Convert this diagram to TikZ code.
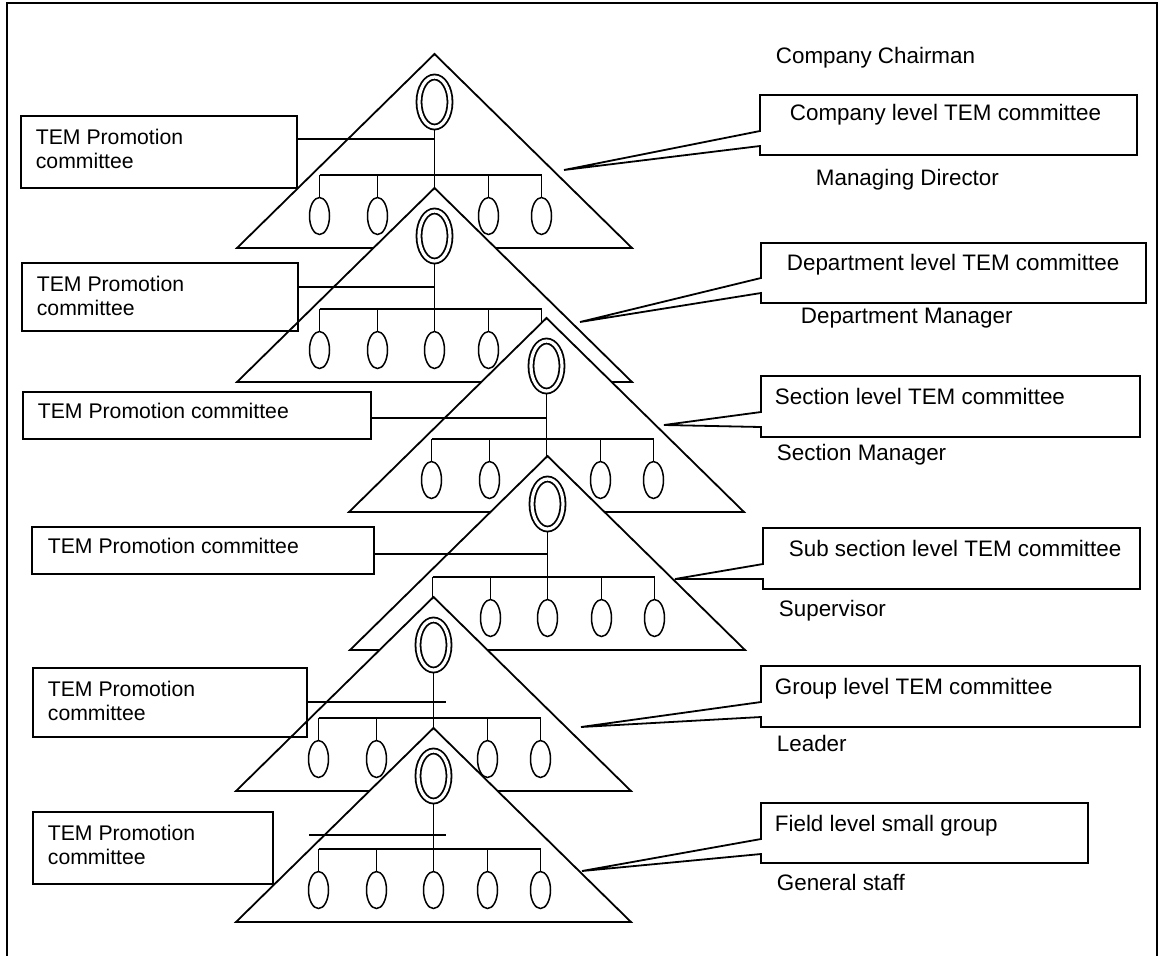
\documentclass[tikz,border=0pt]{standalone}
\usepackage{fontspec}
\setmainfont{Liberation Sans}
\usepackage{tikz}
\usetikzlibrary{shapes.geometric}

\begin{document}
\begin{tikzpicture}[x=0.5pt,y=-0.5pt,line width=0.9pt,line join=miter,
    tri/.style={draw,fill=white},
    head/.style={draw,ellipse,double,double distance=1.6pt,minimum width=15.5pt,minimum height=25pt,inner sep=0pt,outer sep=1.7pt},
    memb/.style={draw,ellipse,line width=0.75pt,minimum width=10pt,minimum height=18.5pt,inner sep=0pt},
    lbox/.style={draw,rectangle,inner sep=0pt},
    ltxt/.style={align=left,inner sep=0pt,font=\fontsize{10.6}{12}\selectfont},
    rtxt/.style={anchor=base west,inner sep=0pt,font=\fontsize{11.2}{13}\selectfont}]
  \useasboundingbox (0,0) rectangle (1163,955);
  \draw (7,960) -- (7,3) -- (1157,3) -- (1157,960);

  % the six levels, each one drawn over the one above it
  \foreach \n/\ax/\ay/\jx/\jy/\sk in {1/434.5/54/434.5/139/3, 2/434.5/188/434.5/287/5,
      3/546.5/318/546.5/418/3, 4/547.5/456/547.5/554/1,
      5/433.5/597/446/702/3, 6/433.5/728/446/835/0} {
    \draw[tri] (\ax,\ay) -- ++(-197.5,194) -- ++(395,0) -- cycle;
    \node[head] (h\n) at (\ax,\ay+48) {};
    \draw (h\n.south) -- (\ax,\ay+121);
    \draw (\ax-115,\ay+121) -- (\ax+107,\ay+121);
    \foreach \k/\dx in {1/-115,2/-57,3/0,4/54,5/107} {
      \draw (\ax+\dx,\ay+121) -- (\ax+\dx,\ay+144);
      \ifnum\k=\sk\relax\else
        \node[memb] (m\n\k) at (\ax+\dx,\ay+162) {};
      \fi
    }
    \coordinate (j\n) at (\jx,\jy);
  }

  % promotion committees on the left
  \node[lbox,minimum width=138pt,minimum height=36pt] (b1) at (159,152) {};
  \node[lbox,minimum width=138pt,minimum height=34pt] (b2) at (160,297) {};
  \node[lbox,minimum width=174pt,minimum height=23.5pt] (b3) at (197,415.5) {};
  \node[lbox,minimum width=171pt,minimum height=23.5pt] (b4) at (203,550.5) {};
  \node[lbox,minimum width=137pt,minimum height=34.5pt] (b5) at (170,702.5) {};
  \node[lbox,minimum width=120pt,minimum height=36pt] (b6) at (153,848) {};

  \node[ltxt,anchor=north west] (b1t) at (35,128) {TEM Promotion\\committee};
  \node[ltxt,anchor=north west] (b2t) at (36,275) {TEM Promotion\\committee};
  \node[ltxt,anchor=base west] (b3t) at (37,418) {TEM Promotion committee};
  \node[ltxt,anchor=base west] (b4t) at (47,553) {TEM Promotion committee};
  \node[ltxt,anchor=north west] (b5t) at (47,680) {TEM Promotion\\committee};
  \node[ltxt,anchor=north west] (b6t) at (47,824) {TEM Promotion\\committee};

  \foreach \n in {1,...,5}
    \draw (b\n.east |- j\n) -- (j\n);
  \coordinate (i6) at (309,835);
  \draw (i6) -- (j6);

  % level committees on the right
  \draw (760,95) -- (1137,95) -- (1137,155) -- (760,155) -- (760,146) -- (564,170) -- (760,131) -- cycle;
  \draw (761,243) -- (1146,243) -- (1146,303) -- (761,303) -- (761,293) -- (580,322) -- (761,278) -- cycle;
  \draw (761,376) -- (1140,376) -- (1140,437) -- (761,437) -- (761,427) -- (664,425) -- (761,412) -- cycle;
  \draw (763,528) -- (1140,528) -- (1140,589) -- (763,589) -- (763,579) -- (675,579) -- (763,564) -- cycle;
  \draw (761,666) -- (1140,666) -- (1140,727) -- (761,727) -- (761,717) -- (581,727) -- (761,702) -- cycle;
  \draw (761,803) -- (1088,803) -- (1088,863) -- (761,863) -- (761,854) -- (582,871) -- (761,839) -- cycle;

  \node[rtxt] (r1) at (789,120) {Company level TEM committee};
  \node[rtxt] (r2) at (786,270) {Department level TEM committee};
  \node[rtxt] (r3) at (774,404) {Section level TEM committee};
  \node[rtxt] (r4) at (788,556) {Sub section level TEM committee};
  \node[rtxt] (r5) at (774,694) {Group level TEM committee};
  \node[rtxt] (r6) at (774,831) {Field level small group};

  \node[rtxt] (chair) at (775,63) {Company Chairman};
  \node[rtxt] (md) at (815,185) {Managing Director};
  \node[rtxt] (dm) at (800,323) {Department Manager};
  \node[rtxt] (sm) at (776,460) {Section Manager};
  \node[rtxt] (sup) at (778,616) {Supervisor};
  \node[rtxt] (lead) at (776,751) {Leader};
  \node[rtxt] (staff) at (776,890) {General staff};
\end{tikzpicture}
\end{document}
